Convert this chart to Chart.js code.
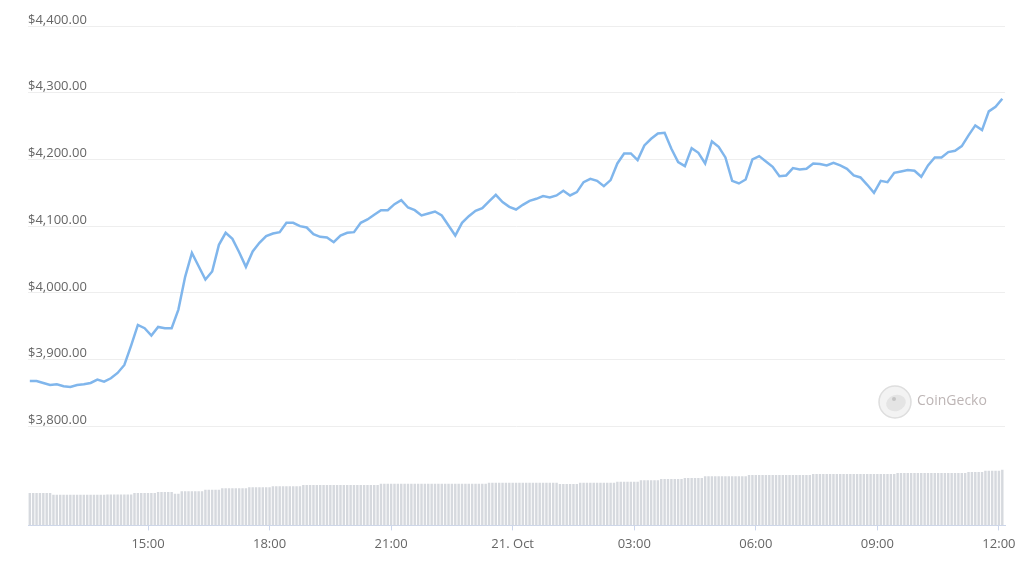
<!DOCTYPE html>
<html>
<head>
<meta charset="utf-8">
<script src="https://cdn.jsdelivr.net/npm/chart.js@4.4.1/dist/chart.umd.min.js"></script>
<style>
html,body{margin:0;padding:0;background:#fff;}
#wrap{width:1024px;height:572px;position:relative;}
</style>
</head>
<body>
<div id="wrap"><canvas id="c" width="1024" height="572"></canvas></div>
<script>
// ---- Axis ticks ----
const priceTickValues = [3800, 3900, 4000, 4100, 4200, 4300, 4400];
const timeTickValues = [15, 18, 21, 24, 27, 30, 33, 36]; // hours from 20 Oct 00:00
const timeTickLabels = ['15:00', '18:00', '21:00', '21. Oct', '03:00', '06:00', '09:00', '12:00'];

// ---- Price series (USD), one value every 10 minutes from 20 Oct 12:05 ----
const priceStartHour = 12 + 5 / 60;
const priceStepHours = 10 / 60;
const prices = [
  3868, 3868, 3865, 3862, 3863, 3860, 3859, 3862, 3863, 3865,
  3870, 3867, 3872, 3880, 3892, 3921, 3952, 3947, 3936, 3949,
  3947, 3947, 3975, 4024, 4060, 4040, 4020, 4032, 4072, 4090,
  4081, 4061, 4039, 4062, 4075, 4085, 4089, 4091, 4105, 4105,
  4100, 4098, 4088, 4084, 4083, 4076, 4086, 4090, 4091, 4105,
  4110, 4117, 4124, 4124, 4133, 4139, 4128, 4124, 4116, 4119,
  4122, 4116, 4101, 4086, 4105, 4115, 4123, 4127, 4137, 4147,
  4136, 4129, 4125, 4132, 4138, 4141, 4145, 4143, 4146, 4153,
  4146, 4151, 4166, 4171, 4168, 4160, 4169, 4194, 4209, 4209,
  4199, 4221, 4231, 4239, 4240, 4216, 4196, 4190, 4217, 4210,
  4194, 4227, 4219, 4203, 4168, 4164, 4170, 4200, 4205, 4197,
  4189, 4175, 4176, 4187, 4185, 4186, 4194, 4193, 4191, 4195,
  4191, 4186, 4176, 4173, 4162, 4150, 4168, 4166, 4180, 4182,
  4184, 4183, 4174, 4191, 4203, 4203, 4211, 4213, 4220, 4236,
  4251, 4244, 4272, 4279, 4291
];

// ---- Volume series (billion USD), one bar every 5 minutes from 20 Oct 12:05 ----
const volumeStartHour = 12 + 5 / 60;
const volumeStepHours = 5 / 60;
const volumes = [
  19.4,19.4,19.4,19.4,19.4,19.4,19.4,
  18.4,18.4,18.4,18.4,18.4,18.4,18.4,18.4,18.4,18.4,18.4,18.4,18.4,18.4,18.4,18.4,
  18.6,18.6,18.6,18.6,18.6,18.6,18.6,18.6,
  19.4,19.4,19.4,19.4,19.4,19.4,19.4,
  20.0,20.0,20.0,20.0,20.0,
  19.0,19.0,
  20.4,20.4,20.4,20.4,20.4,20.4,20.4,
  21.4,21.4,21.4,21.4,21.4,
  22.2,22.2,22.2,22.2,22.2,22.2,22.2,22.2,
  22.8,22.8,22.8,22.8,22.8,22.8,22.8,
  23.4,23.4,23.4,23.4,23.4,23.4,23.4,23.4,23.4,
  24.2,24.2,24.2,24.2,24.2,24.2,24.2,24.2,24.2,24.2,
  24.2,24.2,24.2,24.2,24.2,24.2,24.2,24.2,24.2,24.2,
  24.2,24.2,24.2,
  25.0,25.0,25.0,25.0,25.0,25.0,25.0,25.0,25.0,25.0,
  25.0,25.0,25.0,25.0,25.0,25.0,25.0,25.0,25.0,25.0,
  25.0,25.0,25.0,25.0,25.0,25.0,25.0,25.0,25.0,25.0,
  25.0,25.0,
  25.6,25.6,25.6,25.6,25.6,25.6,25.6,25.6,25.6,25.6,
  25.6,25.6,25.6,25.6,25.6,25.6,25.6,25.6,25.6,25.6,
  25.6,
  24.8,24.8,24.8,24.8,24.8,24.8,
  25.6,25.6,25.6,25.6,25.6,25.6,25.6,25.6,25.6,25.6,
  25.6,
  26.2,26.2,26.2,26.2,26.2,26.2,26.2,
  27.0,27.0,27.0,27.0,27.0,27.0,
  27.8,27.8,27.8,27.8,27.8,27.8,27.8,
  28.4,28.4,28.4,28.4,28.4,28.4,
  29.4,29.4,29.4,29.4,29.4,29.4,29.4,29.4,29.4,29.4,
  29.4,29.4,29.4,
  30.2,30.2,30.2,30.2,30.2,30.2,30.2,30.2,30.2,30.2,
  30.2,30.2,30.2,30.2,30.2,30.2,30.2,30.2,30.2,
  30.8,30.8,30.8,30.8,30.8,30.8,30.8,30.8,30.8,30.8,
  30.8,30.8,30.8,30.8,30.8,30.8,30.8,30.8,30.8,30.8,
  30.8,30.8,30.8,30.8,30.8,
  31.4,31.4,31.4,31.4,31.4,31.4,31.4,31.4,31.4,31.4,
  31.4,31.4,31.4,31.4,31.4,31.4,31.4,31.4,31.4,31.4,
  31.4,
  32.0,32.0,32.0,32.0,32.0,
  32.8,32.8,32.8,32.8,32.8,33.4
];

const pricePoints = prices.map((p, i) => ({ x: priceStartHour + i * priceStepHours, y: p }));
const volumePoints = volumes.map((v, i) => ({ x: volumeStartHour + i * volumeStepHours, y: v }));

Chart.defaults.font.family = "'Open Sans', 'Noto Sans', sans-serif";
Chart.defaults.font.size = 13;
Chart.defaults.color = '#666666';

const watermark = {
  id: 'watermark',
  beforeDatasetsDraw(chart) {
    const ctx = chart.ctx;
    ctx.save();
    const cx = 895, cy = 402, r = 16;
    ctx.beginPath();
    ctx.arc(cx, cy, r, 0, Math.PI * 2);
    ctx.fillStyle = '#f3f3f3';
    ctx.fill();
    ctx.lineWidth = 1.5;
    ctx.strokeStyle = '#dedede';
    ctx.stroke();
    ctx.beginPath();
    ctx.ellipse(cx + 1, cy + 1, 10, 8, -0.3, 0, Math.PI * 2);
    ctx.fillStyle = '#e4e4e4';
    ctx.fill();
    ctx.beginPath();
    ctx.arc(cx - 1, cy - 3, 2, 0, Math.PI * 2);
    ctx.fillStyle = '#c4c4c4';
    ctx.fill();
    ctx.font = "14px 'Open Sans', sans-serif";
    ctx.fillStyle = '#bdb5b5';
    ctx.textBaseline = 'middle';
    ctx.textAlign = 'left';
    ctx.fillText('CoinGecko', 917, 401);
    ctx.restore();
  }
};

new Chart(document.getElementById('c'), {
  type: 'bar',
  data: {
    datasets: [
      {
        type: 'line',
        label: 'Price',
        data: pricePoints,
        yAxisID: 'y',
        borderColor: 'rgb(128,182,236)',
        borderWidth: 2.5,
        pointRadius: 0,
        tension: 0,
        fill: false,
        order: 0
      },
      {
        type: 'bar',
        label: 'Volume',
        data: volumePoints,
        yAxisID: 'yv',
        backgroundColor: '#d6d9de',
        borderWidth: 0,
        barPercentage: 0.72,
        categoryPercentage: 1,
        order: 1
      }
    ]
  },
  options: {
    responsive: false,
    animation: false,
    devicePixelRatio: 1,
    layout: { padding: { left: 28, right: 19, top: 26, bottom: 14 } },
    plugins: { legend: { display: false }, tooltip: { enabled: false } },
    scales: {
      x: {
        type: 'linear',
        offset: false,
        min: 12.0385,
        max: 36.15,
        afterBuildTicks: (scale) => { scale.ticks = timeTickValues.map(v => ({ value: v })); },
        ticks: {
          autoSkip: false,
          maxRotation: 0,
          padding: 6,
          color: '#666666',
          callback: (v) => timeTickLabels[timeTickValues.indexOf(v)]
        },
        grid: { offset: false, drawOnChartArea: false, drawTicks: true, tickLength: 5, color: '#ccd6eb' },
        border: { display: true, color: '#ccd6eb' }
      },
      y: {
        type: 'linear',
        position: 'left',
        min: 3651.5,
        max: 4400,
        afterBuildTicks: (scale) => { scale.ticks = priceTickValues.map(v => ({ value: v })); },
        ticks: {
          mirror: true,
          padding: 0,
          labelOffset: -6,
          color: '#666666',
          callback: (v) => '$' + Number(v).toLocaleString('en-US', { minimumFractionDigits: 2, maximumFractionDigits: 2 })
        },
        grid: { color: '#eeeeee', drawTicks: false },
        border: { display: false }
      },
      yv: {
        type: 'linear',
        display: false,
        min: 0,
        max: 299.4
      }
    }
  },
  plugins: [watermark]
});
</script>
</body>
</html>
